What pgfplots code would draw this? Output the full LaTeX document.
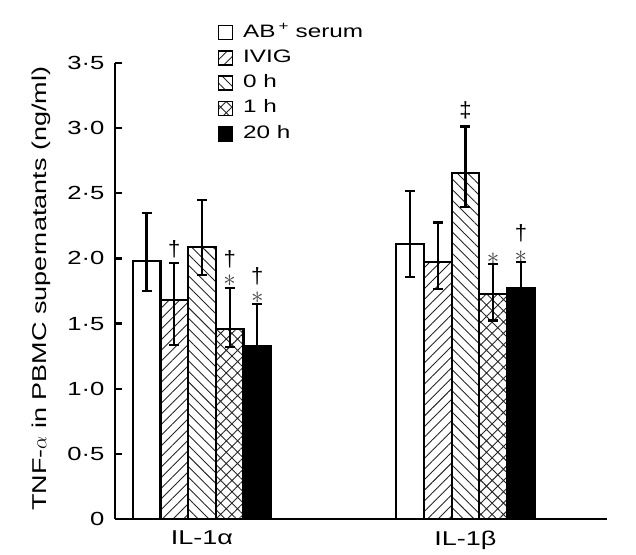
\documentclass[border=0pt]{standalone}
\usepackage{fontspec}
\setmainfont{Liberation Sans}
\newfontfamily\wide{Liberation Sans}[FakeStretch=1.35]
\usepackage{pgfplots}
\usepackage{pgfplotstable}
\pgfplotsset{compat=1.18}
\usetikzlibrary{patterns.meta}

% x = group position (offset by bar), y = mean, ep/em = error up/down
\pgfplotstableread{
x y ep em
0.7898 1.98 0.37 0.23
1.7898 2.108 0.41 0.25
}\tabAB
\pgfplotstableread{
x y ep em
0.8949 1.681 0.286 0.346
1.8949 1.975 0.30 0.21
}\tabIVIG
\pgfplotstableread{
x y ep em
1.0 2.090 0.36 0.22
2.0 2.653 0.36 0.26
}\tabZero
\pgfplotstableread{
x y ep em
1.1051 1.456 0.32 0.134
2.1051 1.724 0.233 0.20
}\tabOne
\pgfplotstableread{
x y ep em
1.2102 1.328 0.322 0.25
2.2102 1.77 0.20 0.20
}\tabTwenty

\begin{document}
\begin{tikzpicture}
\useasboundingbox (-115pt,-35pt) rectangle (521pt,519pt);
\begin{axis}[
  scale only axis,
  width=492pt, height=456pt,
  xmin=0.670, xmax=2.537,
  ymin=0, ymax=3.5,
  axis lines=left,
  axis line style={-, line width=2.2pt},
  ytick={0,0.5,1,1.5,2,2.5,3,3.5},
  yticklabels={0,0·5,1·0,1·5,2·0,2·5,3·0,3·5},
  xtick={1,2},
  xticklabels={IL-1α,IL-1β},
  x tick label style={font=\wide\fontsize{20}{22}\selectfont, yshift=-1pt},
  y tick label style={font=\wide\fontsize{19}{22}\selectfont, xshift=-7pt},
  tick align=inside,
  ytick style={line width=2.2pt, black},
  major tick length=7pt,
  xtick style={draw=none},
  ylabel={\wide TNF-$\alpha$ in PBMC supernatants (ng/ml)},
  ylabel style={at={(axis description cs:-0.150,0.505)}, anchor=center, rotate=0, font=\fontsize{20}{22}\selectfont},
  ybar, bar width=0.1051,
  every axis plot/.append style={bar shift=0pt, draw=black, line width=2.2pt},
  error bars/y dir=both, error bars/y explicit,
  error bars/error bar style={line width=2.2pt, black},
  error bars/error mark options={rotate=90, mark size=5pt, line width=2.2pt, black},
  legend image code/.code={\draw[#1, line width=1.6pt, draw=black] (0pt,-7pt) rectangle (14pt,7pt);},
  legend style={draw=none, fill=none, inner sep=0pt, at={(axis description cs:0.208,1.088)}, anchor=north west,
    font=\wide\fontsize{18}{20}\selectfont, row sep=6.3pt,
    nodes={inner sep=1pt, text height=13pt, text depth=4pt},
    /tikz/every odd column/.append style={column sep=9pt}},
  legend cell align=left,
  clip=false,
]
\addplot[fill=white] table[x=x,y=y,y error plus=ep,y error minus=em]{\tabAB};
\addlegendentry{AB\,\textsuperscript{+} serum}
\addplot[pattern={Lines[angle=45,distance=7.5pt,line width=0.9pt]}, pattern color=black!85] table[x=x,y=y,y error plus=ep,y error minus=em]{\tabIVIG};
\addlegendentry{IVIG}
\addplot[pattern={Lines[angle=-45,distance=7.5pt,line width=0.9pt]}, pattern color=black!85] table[x=x,y=y,y error plus=ep,y error minus=em]{\tabZero};
\addlegendentry{0 h}
\addplot[pattern={Hatch[angle=45,distance=8pt,line width=0.9pt]}, pattern color=black!85] table[x=x,y=y,y error plus=ep,y error minus=em]{\tabOne};
\addlegendentry{1 h}
\addplot[fill=black] table[x=x,y=y,y error plus=ep,y error minus=em]{\tabTwenty};
\addlegendentry{20 h}
% significance annotations
\tikzset{dag/.style={inner sep=0pt, font=\fontsize{22}{24}\selectfont},
         ast/.style={inner sep=0pt, text=black!75, font=\fontsize{24}{26}\selectfont}}
\node[dag] at (axis cs:0.8949,2.07) {†};
\node[dag] at (axis cs:1.1051,1.99) {†};
\node[ast] at (axis cs:1.1051,1.83) {$\ast$};
\node[dag] at (axis cs:1.2102,1.86) {†};
\node[ast] at (axis cs:1.2102,1.70) {$\ast$};
\node[dag] at (axis cs:2.0,3.14) {‡};
\node[ast] at (axis cs:2.1051,2.00) {$\ast$};
\node[dag] at (axis cs:2.2102,2.19) {†};
\node[ast] at (axis cs:2.2102,2.01) {$\ast$};
\end{axis}
\end{tikzpicture}
\end{document}
